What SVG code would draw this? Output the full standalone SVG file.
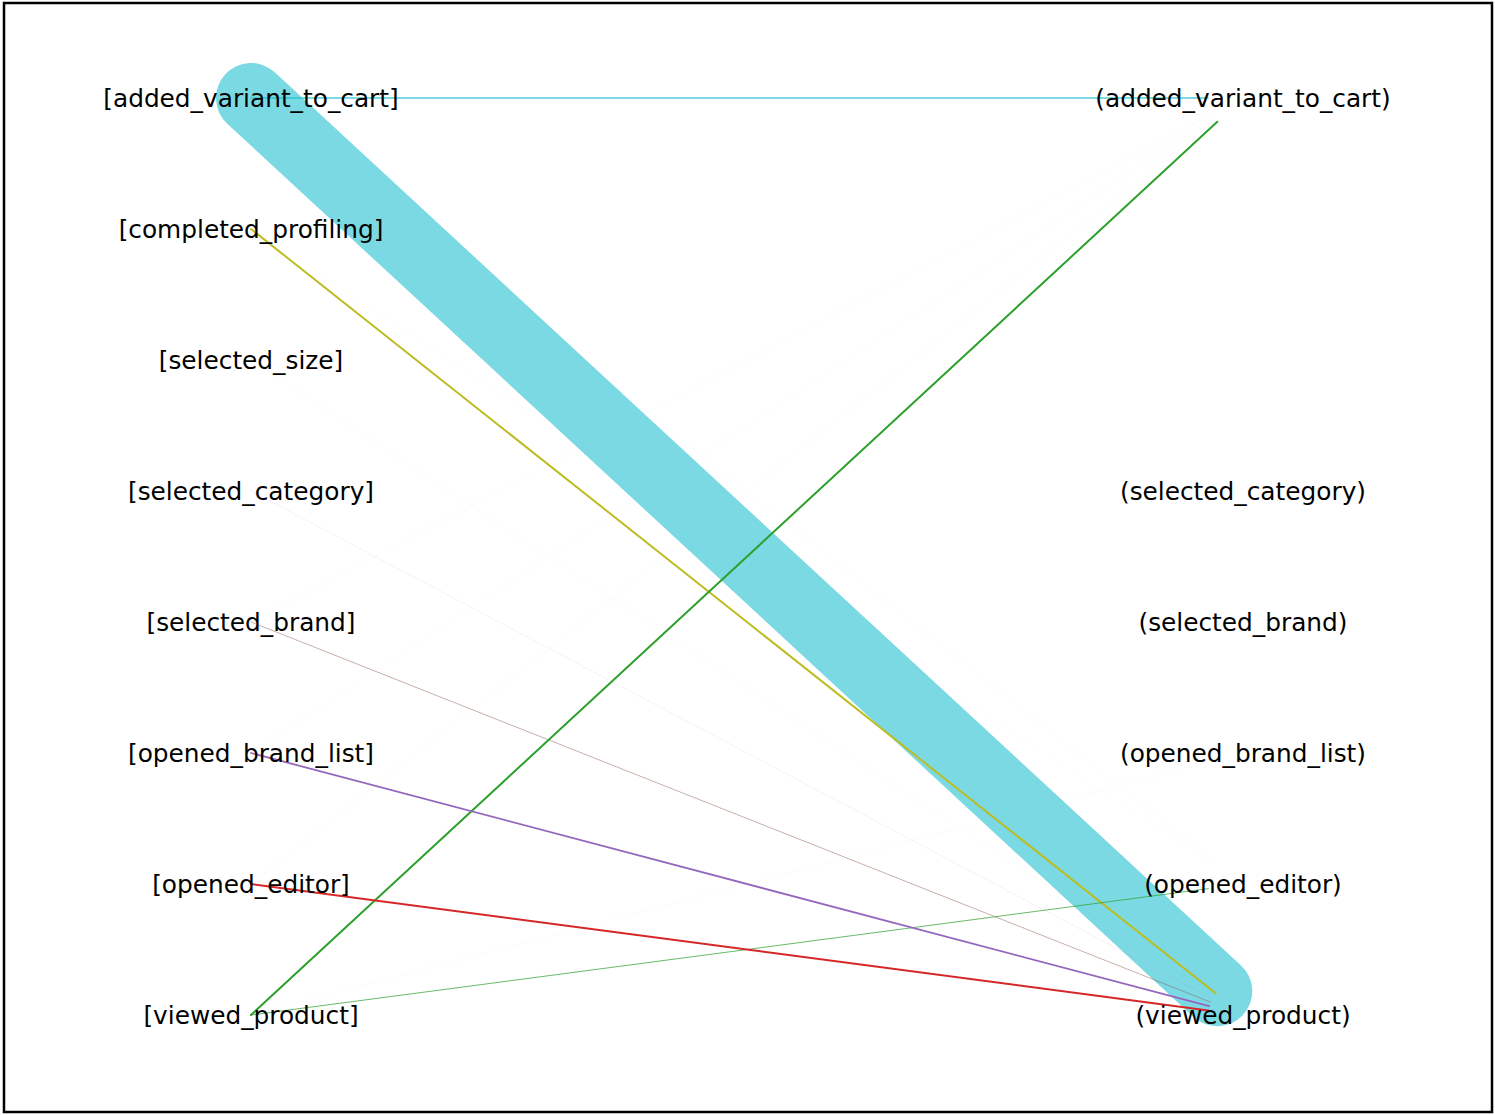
<svg xmlns="http://www.w3.org/2000/svg" width="1495" height="1115" viewBox="0 0 1495 1115">
<style>
text{font-family:"DejaVu Sans","Liberation Sans",sans-serif;font-size:24.8px;fill:#000;text-anchor:middle}
line{stroke-linecap:round;fill:none}
.faint{stroke-width:0.5;opacity:0.06}
</style>
<rect x="0" y="0" width="1495" height="1115" fill="#fff"/>
<rect x="4" y="3" width="1488" height="1109" fill="none" stroke="#000" stroke-width="2.5"/>
<g id="connectors">
<line x1="251" y1="98" x2="1217.3" y2="991.2" stroke="#7bd9e3" stroke-width="70"/>
<line class="faint" x1="251" y1="753" x2="1213.8" y2="117.3" stroke="#9467bd"/>
<line class="faint" x1="251" y1="884" x2="1215.6" y2="119.7" stroke="#d62728"/>
<line class="faint" x1="251" y1="622" x2="1212.1" y2="114.3" stroke="#8c564b"/>
<line class="faint" x1="251" y1="98" x2="1215.6" y2="862.3" stroke="#17becf"/>
<line class="faint" x1="251" y1="229" x2="1213.8" y2="864.7" stroke="#bcbd22"/>
<line class="faint" x1="251" y1="1015" x2="1209.2" y2="761.9" stroke="#2ca02c"/>
<line class="faint" x1="251" y1="360" x2="1213.8" y2="995.7" stroke="#7f7f7f"/>
<line x1="251" y1="491" x2="1212.1" y2="998.7" stroke="#e377c2" stroke-width="0.5" opacity="0.25"/>
<line x1="251" y1="622" x2="1210.5" y2="1002.1" stroke="#8c564b" stroke-width="0.8" opacity="0.6"/>
<line x1="251" y1="98" x2="1208" y2="98" stroke="#17becf" stroke-width="1.5" opacity="0.75"/>
<line x1="251" y1="229" x2="1215.6" y2="993.3" stroke="#bcbd22" stroke-width="2"/>
<line x1="251" y1="1015" x2="1217.3" y2="121.8" stroke="#2ca02c" stroke-width="2"/>
<line x1="251" y1="1015" x2="1208.3" y2="888.6" stroke="#2ca02c" stroke-width="0.9" opacity="0.8"/>
<line x1="251" y1="884" x2="1208.3" y2="1010.4" stroke="#d62728" stroke-width="2"/>
<line x1="251" y1="753" x2="1209.2" y2="1006.1" stroke="#9467bd" stroke-width="1.8"/>
</g>
<g id="L_added_variant_to_cart"><text x="251" y="106.5">[added_variant_to_cart]</text></g>
<g id="L_completed_profiling"><text x="251" y="237.5">[completed_profiling]</text></g>
<g id="L_selected_size"><text x="251" y="368.5">[selected_size]</text></g>
<g id="L_selected_category"><text x="251" y="499.5">[selected_category]</text></g>
<g id="L_selected_brand"><text x="251" y="630.5">[selected_brand]</text></g>
<g id="L_opened_brand_list"><text x="251" y="761.5">[opened_brand_list]</text></g>
<g id="L_opened_editor"><text x="251" y="892.5">[opened_editor]</text></g>
<g id="L_viewed_product"><text x="251" y="1023.5">[viewed_product]</text></g>
<g id="R_added_variant_to_cart"><text x="1243" y="106.5">(added_variant_to_cart)</text></g>
<g id="R_selected_category"><text x="1243" y="499.5">(selected_category)</text></g>
<g id="R_selected_brand"><text x="1243" y="630.5">(selected_brand)</text></g>
<g id="R_opened_brand_list"><text x="1243" y="761.5">(opened_brand_list)</text></g>
<g id="R_opened_editor"><text x="1243" y="892.5">(opened_editor)</text></g>
<g id="R_viewed_product"><text x="1243" y="1023.5">(viewed_product)</text></g>
</svg>
